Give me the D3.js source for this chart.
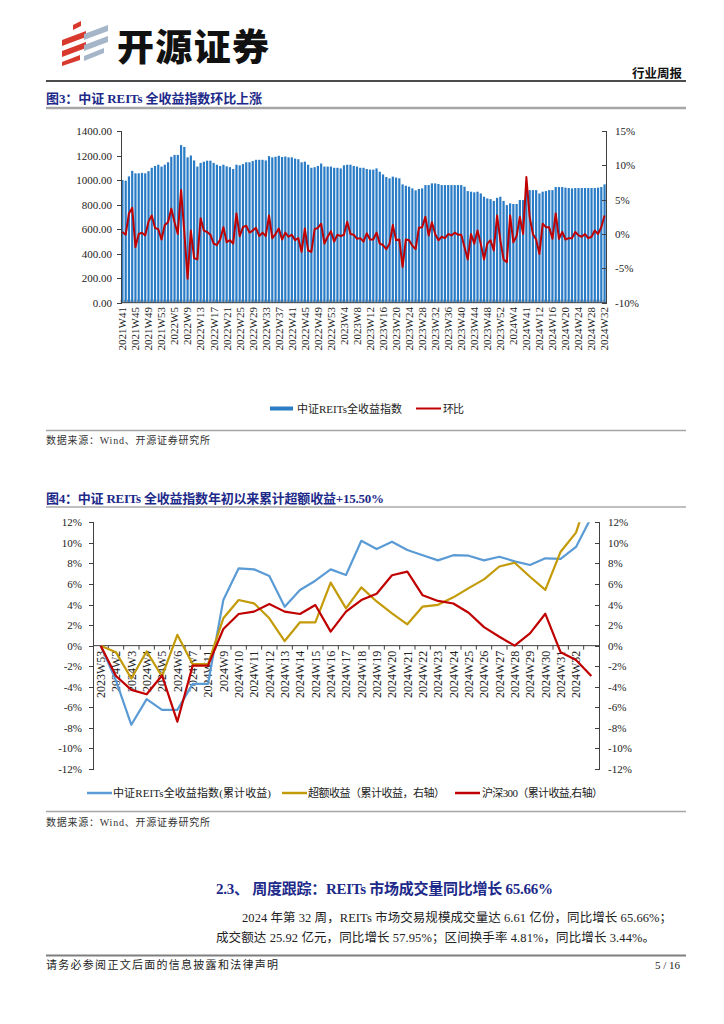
<!DOCTYPE html>
<html><head><meta charset="utf-8">
<script src="https://cdn.jsdelivr.net/npm/d3@7/dist/d3.min.js"></script>
<style>
body{margin:0;background:#fff;}
svg{display:block;}
.ax text{font-family:'Liberation Serif','Noto Sans CJK SC',serif;fill:#222;}
.ax path,.ax line{stroke:#404040;stroke-width:1;shape-rendering:crispEdges;}
</style></head>
<body>
<script>
// ---------- Chart 1 data: 中证REITs全收益指数 weekly (2021W41 – 2024W32) ----------
const weeklyTickLabels = ["2021W41","2021W45","2021W49","2021W53","2022W5","2022W9","2022W13","2022W17","2022W21","2022W25","2022W29","2022W33","2022W37","2022W41","2022W45","2022W49","2022W53","2023W4","2023W8","2023W12","2023W16","2023W20","2023W24","2023W28","2023W32","2023W36","2023W40","2023W44","2023W48","2023W52","2024W4","2024W41","2024W12","2024W16","2024W20","2024W24","2024W28","2024W32"];
const indexValues = [
 1000, 995, 1030, 1075, 1055, 1055, 1058, 1055, 1072, 1100,
 1115, 1125, 1110, 1125, 1145, 1190, 1205, 1205, 1285, 1270,
 1185, 1200, 1160, 1110, 1140, 1150, 1158, 1158, 1140, 1125,
 1115, 1125, 1112, 1105, 1090, 1125, 1120, 1130, 1145, 1145,
 1155, 1165, 1165, 1165, 1160, 1195, 1185, 1190, 1198, 1188,
 1192, 1185, 1185, 1175, 1170, 1145, 1150, 1125, 1100, 1105,
 1115, 1135, 1110, 1110, 1110, 1100, 1100, 1095, 1120, 1125,
 1125, 1115, 1110, 1100, 1100, 1090, 1085, 1085, 1095, 1068,
 1046, 1025, 1014, 1028, 1020, 1014, 965, 954, 946, 932,
 916, 927, 932, 959, 959, 973, 973, 968, 959, 959,
 959, 959, 959, 959, 959, 946, 910, 905, 900, 905,
 891, 864, 850, 845, 830, 855, 864, 830, 796, 810,
 805, 805, 837, 837, 910, 918, 918, 918, 891, 905,
 910, 918, 918, 943, 943, 943, 938, 935, 932, 935,
 935, 935, 935, 935, 935, 935, 938, 943, 965];
const wowPct = [
 0.3, -0.1, 3.0, 3.8, -1.9, 0.0, 0.2, -0.2, 1.8, 2.7,
 0.9, 0.7, -0.8, 1.3, 1.7, 3.7, 1.7, 0.0, 6.4, 0.3,
 -6.5, 0.5, -3.5, -3.7, 2.3, 0.5, 0.3, -0.1, -1.4, -1.6,
 -0.8, 1.0, -1.2, -0.9, -1.4, 3.0, -0.3, 1.0, 1.2, 0.2,
 0.5, 0.9, -0.3, 0.2, -0.3, 2.7, -0.6, 0.0, 0.8, -0.8,
 0.2, -0.4, -0.1, -0.9, -0.6, -2.6, 0.8, -2.4, -2.6, 0.7,
 0.9, 1.5, -1.4, -0.4, 0.4, -1.1, -0.1, -0.3, -0.1, 1.8,
 0.0, -0.1, -0.7, -0.6, -1.1, 0.1, -0.8, -0.8, 0.2, -1.4,
 -1.6, -2.2, -1.4, 1.3, -0.9, -0.8, -4.8, -0.8, -0.9, -1.7,
 -2.2, 0.9, 1.0, 2.5, -0.2, 1.7, 0.0, -0.9, -0.4, -0.6,
 0.0, -0.2, 0.2, -0.1, -0.1, -1.9, -3.7, 0.0, -1.4, 0.5,
 -1.4, -3.7, -1.4, -0.9, -2.4, 2.7, -0.9, -3.7, -4.1, 2.7,
 -1.2, -0.3, 2.5, 0.0, 8.3, 2.5, 0.0, -0.8, -2.9, 1.5,
 1.0, 1.0, -0.7, 3.0, -0.7, 0.3, -0.8, -0.6, -0.6, 0.3,
 -0.2, -0.4, 0.0, -0.6, -0.4, 0.5, 0.0, 1.0, 2.7];
const leftTicks1 = [0, 200, 400, 600, 800, 1000, 1200, 1400];
const rightTicks1 = [-10, -5, 0, 5, 10, 15];

// ---------- Chart 2 data: cumulative YTD (%) ----------
const ytdWeeks = ["2023W53","2024W2","2024W3","2024W4","2024W5","2024W6","2024W7","2024W11","2024W9","2024W10","2024W11","2024W12","2024W13","2024W14","2024W15","2024W16","2024W17","2024W18","2024W19","2024W20","2024W21","2024W22","2024W23","2024W24","2024W25","2024W26","2024W27","2024W28","2024W29","2024W30","2024W31","2024W32",""];
const reitsCum = [0, -3.4, -7.7, -5.2, -6.25, -6.25, -3.72, -3.72, 4.44, 7.52, 7.42, 6.77, 3.78, 5.41, 6.32, 7.42, 6.87, 10.2, 9.4, 10.1, 9.3, 8.8, 8.3, 8.8, 8.75, 8.3, 8.65, 8.2, 7.85, 8.5, 8.45, 9.6, 12.5];
const excessCum = [0, -0.65, -3.2, -0.55, -3.0, 1.05, -1.8, -1.8, 2.66, 4.44, 4.12, 2.66, 0.45, 2.27, 2.27, 6.13, 3.63, 5.67, 4.3, 3.15, 2.08, 3.8, 3.97, 4.7, 5.6, 6.45, 7.7, 8.07, 6.7, 5.42, 9.14, 11.0, 15.5];
const hs300Cum = [0, -2.95, -4.3, -4.73, -2.9, -7.4, -1.94, -1.94, 1.62, 3.08, 3.31, 4.05, 3.31, 3.08, 3.95, 1.36, 3.31, 4.44, 5.05, 6.85, 7.2, 4.9, 4.35, 4.1, 3.2, 1.8, 0.87, 0.0, 1.2, 3.1, -0.65, -1.4, -2.95];
const pctTicks2 = [-12, -10, -8, -6, -4, -2, 0, 2, 4, 6, 8, 10, 12];

const SERIF = "'Liberation Serif','Noto Sans CJK SC',serif";
const NAVY = "#1d2a8a";
const svg = d3.select("body").append("svg").attr("width", 724).attr("height", 1024);

function txt(x, y, s, o = {}) {
  const t = svg.append("text").attr("x", x).attr("y", y).text(s)
    .attr("font-family", o.ff || SERIF).attr("font-size", o.fs || 12)
    .attr("fill", o.fill || "#222").attr("font-weight", o.fw || "normal")
    .attr("text-anchor", o.anchor || "start");
  if (o.len) t.attr("textLength", o.len).attr("lengthAdjust", "spacing");
  return t;
}
function hline(x1, x2, y, c, w) {
  svg.append("line").attr("x1", x1).attr("x2", x2).attr("y1", y).attr("y2", y)
    .attr("stroke", c).attr("stroke-width", w);
}

// ---------- Header ----------
const logo = svg.append("g");
const red = "#d8392c", grey = "#a4b6c8";
[[ [73,25],[81,21],[81,26],[73,30] ],
 [ [62,40],[86,31],[86,37],[62,46] ],
 [ [62,51],[86,42],[86,48],[62,57] ],
 [ [62,62],[80,55],[80,60],[62,66] ]].forEach(p =>
  logo.append("polygon").attr("points", p.join(" ")).attr("fill", red));
[[ [84,34],[108,25],[108,31],[84,40] ],
 [ [84,45],[108,36],[108,42],[84,51] ],
 [ [84,56],[104,48],[104,53],[84,61] ]].forEach(p =>
  logo.append("polygon").attr("points", p.join(" ")).attr("fill", grey));
txt(117, 61, "开源证券", {ff: "'Noto Sans CJK SC',sans-serif", fs: 37, fw: 900, fill: "#111", len: 152});
txt(682, 78, "行业周报", {ff: "'Noto Sans CJK SC',sans-serif", fs: 12.5, fw: "bold", fill: "#111", anchor: "end"});
hline(46, 686, 81, "#111", 1.3);

// ---------- Chart 1 ----------
txt(46, 103, "图3：中证 REITs 全收益指数环比上涨", {fs: 13, fw: "bold", fill: NAVY, len: 216});
hline(46, 686, 108, "#a6a6a6", 2.5);

const c1L = 121, c1R = 606, c1T = 131, c1B = 302.7;
const x1 = d3.scaleBand().domain(d3.range(indexValues.length)).range([c1L, c1R]).paddingInner(0.32).paddingOuter(0.1);
const yL1 = d3.scaleLinear().domain([0, 1400]).range([c1B, c1T]);
const yR1 = d3.scaleLinear().domain([-10, 15]).range([c1B, c1T]);
const bw1 = x1.bandwidth();

svg.append("g").selectAll("rect").data(indexValues).join("rect")
  .attr("x", (d, i) => x1(i)).attr("width", bw1)
  .attr("y", d => yL1(d)).attr("height", d => yL1(0) - yL1(d))
  .attr("fill", "#2a7cc6");

// category ticks (inside, at bar boundaries)
svg.append("g").selectAll("line").data(d3.range(indexValues.length + 1)).join("line")
  .attr("x1", i => c1L + i * x1.step()).attr("x2", i => c1L + i * x1.step())
  .attr("y1", c1B).attr("y2", c1B - 3).attr("stroke", "#555").attr("stroke-width", 0.6);
hline(c1L, c1R, c1B, "#404040", 1);

const gl1 = svg.append("g").attr("class", "ax").attr("transform", `translate(${c1L},0)`)
  .call(d3.axisLeft(yL1).tickValues(leftTicks1).tickFormat(d3.format(".2f")).tickSizeOuter(0).tickSize(4).tickPadding(5));
gl1.selectAll("text").attr("font-size", 11);
const gr1 = svg.append("g").attr("class", "ax").attr("transform", `translate(${c1R},0)`)
  .call(d3.axisRight(yR1).tickValues(rightTicks1).tickFormat(d => d + "%").tickSizeOuter(0).tickSize(-4).tickPadding(9));
gr1.selectAll("text").attr("font-size", 11);

// x labels
svg.append("g").selectAll("text").data(weeklyTickLabels).join("text")
  .attr("transform", (d, k) => `translate(${x1(k * 4) + bw1 / 2},307) rotate(-90)`)
  .attr("text-anchor", "end").attr("dy", "0.35em")
  .attr("font-family", SERIF).attr("font-size", 11).attr("fill", "#222").text(d => d);

const line1 = d3.line().x((d, i) => x1(i) + bw1 / 2).y(d => yR1(d));
svg.append("path").datum(wowPct).attr("d", line1).attr("fill", "none")
  .attr("stroke", "#c00000").attr("stroke-width", 2).attr("stroke-linejoin", "round");

// legend 1
svg.append("rect").attr("x", 270).attr("y", 406.5).attr("width", 23).attr("height", 4).attr("fill", "#2a7cc6");
txt(297, 412.5, "中证REITs全收益指数", {fs: 11, len: 105});
svg.append("line").attr("x1", 416).attr("x2", 441).attr("y1", 408.5).attr("y2", 408.5).attr("stroke", "#c00000").attr("stroke-width", 2);
txt(443, 412.5, "环比", {fs: 11, len: 21});
hline(46, 686, 430.5, "#a6a6a6", 1.5);
txt(46, 444, "数据来源：Wind、开源证券研究所", {fs: 10, fill: "#333", len: 164});

// ---------- Chart 2 ----------
txt(46, 503, "图4：中证 REITs 全收益指数年初以来累计超额收益+15.50%", {fs: 13, fw: "bold", fill: NAVY, len: 338});
hline(46, 686, 507, "#7f7f7f", 1);

const c2L = 93, c2R = 599, c2T = 522.3, c2B = 769;
const x2 = d3.scaleBand().domain(d3.range(ytdWeeks.length)).range([c2L, c2R]);
const y2 = d3.scaleLinear().domain([-12, 12]).range([c2B, c2T]);
const bw2 = x2.bandwidth();
const y0 = y2(0);

const gl2 = svg.append("g").attr("class", "ax").attr("transform", `translate(${c2L},0)`)
  .call(d3.axisLeft(y2).tickValues(pctTicks2).tickFormat(d => d + "%").tickSizeOuter(0).tickSize(4).tickPadding(7));
gl2.selectAll("text").attr("font-size", 11);
const gr2 = svg.append("g").attr("class", "ax").attr("transform", `translate(${c2R},0)`)
  .call(d3.axisRight(y2).tickValues(pctTicks2).tickFormat(d => d + "%").tickSizeOuter(0).tickSize(-4).tickPadding(9));
gr2.selectAll("text").attr("font-size", 11);

// zero axis with category ticks
hline(c2L, c2R, y0, "#404040", 1);
svg.append("g").selectAll("line").data(d3.range(1, ytdWeeks.length)).join("line")
  .attr("x1", i => x2(i)).attr("x2", i => x2(i))
  .attr("y1", y0).attr("y2", y0 + 4).attr("stroke", "#404040").attr("stroke-width", 1);

svg.append("g").selectAll("text").data(ytdWeeks).join("text")
  .attr("transform", (d, i) => `translate(${x2(i) + bw2 / 2},${y0 + 5}) rotate(-90)`)
  .attr("text-anchor", "end").attr("dy", "0.35em")
  .attr("font-family", SERIF).attr("font-size", 12).attr("fill", "#222").text(d => d);

svg.append("clipPath").attr("id", "clip2").append("rect")
  .attr("x", c2L).attr("y", c2T).attr("width", c2R - c2L).attr("height", c2B - c2T);
const line2 = d3.line().x((d, i) => x2(i) + bw2 / 2).y(d => y2(d));
const series2 = [
  {vals: reitsCum, color: "#5b9bd5"},
  {vals: excessCum, color: "#c39a07"},
  {vals: hs300Cum, color: "#c00000"}];
const g2 = svg.append("g").attr("clip-path", "url(#clip2)");
series2.forEach(s => g2.append("path").datum(s.vals).attr("d", line2).attr("fill", "none")
  .attr("stroke", s.color).attr("stroke-width", 2.2).attr("stroke-linejoin", "round"));

// legend 2
[[87, "#5b9bd5", 113, "中证REITs全收益指数(累计收益)", 158],
 [282, "#c39a07", 308, "超额收益（累计收益，右轴）", 137],
 [455, "#c00000", 482, "沪深300（累计收益,右轴）", 121]].forEach(([lx, c, tx, s, len]) => {
  svg.append("line").attr("x1", lx).attr("x2", lx + 25).attr("y1", 793).attr("y2", 793)
    .attr("stroke", c).attr("stroke-width", 2.5);
  txt(tx, 797, s, {fs: 11, len: len});
});
hline(46, 686, 811.5, "#a6a6a6", 1.5);
txt(46, 826, "数据来源：Wind、开源证券研究所", {fs: 10, fill: "#333", len: 164});

// ---------- Text section ----------
txt(216, 894, "2.3、 周度跟踪：REITs 市场成交量同比增长 65.66%", {fs: 15, fw: "bold", fill: NAVY, len: 337});
txt(242, 922, "2024 年第 32 周，REITs 市场交易规模成交量达 6.61 亿份，同比增长 65.66%；", {fs: 12.5, len: 430});
txt(216, 942, "成交额达 25.92 亿元，同比增长 57.95%；区间换手率 4.81%，同比增长 3.44%。", {fs: 12.5, len: 439});
hline(46, 686, 955.5, "#7f7f7f", 2);
txt(46, 969, "请务必参阅正文后面的信息披露和法律声明", {fs: 11, len: 232});
txt(680, 969, "5 / 16", {fs: 11, anchor: "end"});
</script>
</body></html>
